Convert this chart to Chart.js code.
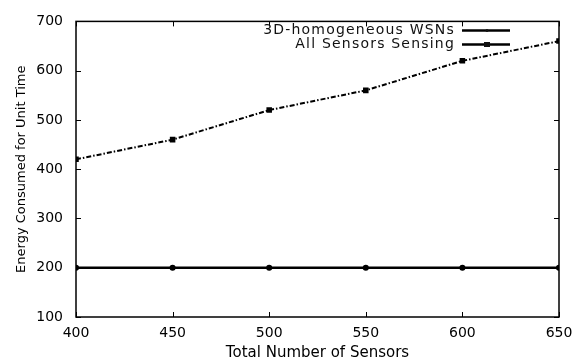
<!DOCTYPE html>
<html>
<head>
<meta charset="utf-8">
<script src="https://cdn.jsdelivr.net/npm/chart.js@4.4.1/dist/chart.umd.min.js"></script>
<style>
  html, body { margin: 0; padding: 0; background: #fff; }
  #wrap { width: 583px; height: 362px; }
</style>
</head>
<body>
<div id="wrap"><canvas id="chart" width="583" height="362"></canvas></div>
<script>
var sensors = [400, 450, 500, 550, 600, 650];
var homogeneous = [200, 200, 200, 200, 200, 200];
var allSensing = [420, 460, 520, 560, 620, 660];
var seriesNames = ['3D-homogeneous WSNs', 'All Sensors Sensing'];
var xTicks = [400, 450, 500, 550, 600, 650];
var yTicks = [100, 200, 300, 400, 500, 600, 700];

var FONT = '"DejaVu Sans", Verdana, sans-serif';

function toPoints(vals) {
    return sensors.map(function(s, i) { return { x: s, y: vals[i] }; });
}

// gnuplot-ish inward ticks on all four sides plus the legend in the corner
var framePlugin = {
    id: 'frame',
    afterDraw: function(chart) {
        var ctx = chart.ctx;
        var a = chart.chartArea;
        var xs = chart.scales.x, ys = chart.scales.y;
        ctx.save();
        ctx.strokeStyle = '#000';
        ctx.lineWidth = 1.5;
        ctx.strokeRect(a.left, a.top, a.right - a.left, a.bottom - a.top);
        ctx.lineWidth = 1;
        xTicks.forEach(function(v) {
            var px = Math.round(xs.getPixelForValue(v)) + 0.5;
            ctx.beginPath();
            ctx.moveTo(px, a.bottom); ctx.lineTo(px, a.bottom - 5);
            ctx.moveTo(px, a.top); ctx.lineTo(px, a.top + 5);
            ctx.stroke();
        });
        yTicks.forEach(function(v) {
            var py = Math.round(ys.getPixelForValue(v)) + 0.5;
            ctx.beginPath();
            ctx.moveTo(a.left, py); ctx.lineTo(a.left + 5, py);
            ctx.moveTo(a.right, py); ctx.lineTo(a.right - 5, py);
            ctx.stroke();
        });

        // legend
        ctx.font = '14px ' + FONT;
        ctx.letterSpacing = '1.2px';
        ctx.fillStyle = '#111';
        ctx.textAlign = 'right';
        ctx.textBaseline = 'middle';
        var rows = [30.5, 44.5];
        chart.data.datasets.forEach(function(ds, i) {
            var y = rows[i];
            ctx.fillText(ds.label, 455, y);
            ctx.beginPath();
            ctx.lineWidth = 2.5;
            ctx.moveTo(462, y); ctx.lineTo(510, y);
            ctx.stroke();
            if (i === 0) {
                ctx.beginPath();
                ctx.arc(487, y, 1.5, 0, Math.PI * 2);
                ctx.fill();
            } else {
                ctx.fillRect(484, y - 2.5, 6, 5);
            }
        });
        ctx.restore();
    }
};

new Chart(document.getElementById('chart'), {
    type: 'line',
    data: {
        datasets: [
            {
                label: seriesNames[0],
                data: toPoints(homogeneous),
                borderColor: '#000',
                backgroundColor: '#000',
                borderWidth: 2.5,
                pointRadius: 1.8,
                pointStyle: 'circle'
            },
            {
                label: seriesNames[1],
                data: toPoints(allSensing),
                borderColor: '#000',
                backgroundColor: '#000',
                borderWidth: 2,
                borderDash: [5, 2, 1.5, 2],
                pointRadius: 2.5,
                pointStyle: 'rect'
            }
        ]
    },
    options: {
        responsive: false,
        animation: false,
        layout: { padding: { top: 20, right: 24, left: 0, bottom: 0 } },
        plugins: {
            legend: { display: false },
            tooltip: { enabled: false }
        },
        scales: {
            x: {
                type: 'linear',
                min: 400,
                max: 650,
                afterBuildTicks: function(s) { s.ticks = xTicks.map(function(v) { return { value: v }; }); },
                grid: { display: false, drawTicks: false },
                border: { display: false },
                ticks: { color: '#000', font: { family: FONT, size: 14 }, padding: 8, maxRotation: 0 },
                title: { display: true, text: 'Total Number of Sensors', color: '#000', font: { family: FONT, size: 15 }, padding: { top: 0, bottom: 0 } },
                afterFit: function(s) { s.height = 45; }
            },
            y: {
                min: 100,
                max: 700,
                afterBuildTicks: function(s) { s.ticks = yTicks.map(function(v) { return { value: v }; }); },
                grid: { display: false, drawTicks: false },
                border: { display: false },
                ticks: { color: '#000', font: { family: FONT, size: 14 }, padding: 13 },
                title: { display: true, text: 'Energy Consumed for Unit Time', color: '#000', font: { family: FONT, size: 13 }, padding: { top: 14, bottom: 0 } },
                afterFit: function(s) { s.width = 76; }
            }
        }
    },
    plugins: [framePlugin]
});
</script>
</body>
</html>
